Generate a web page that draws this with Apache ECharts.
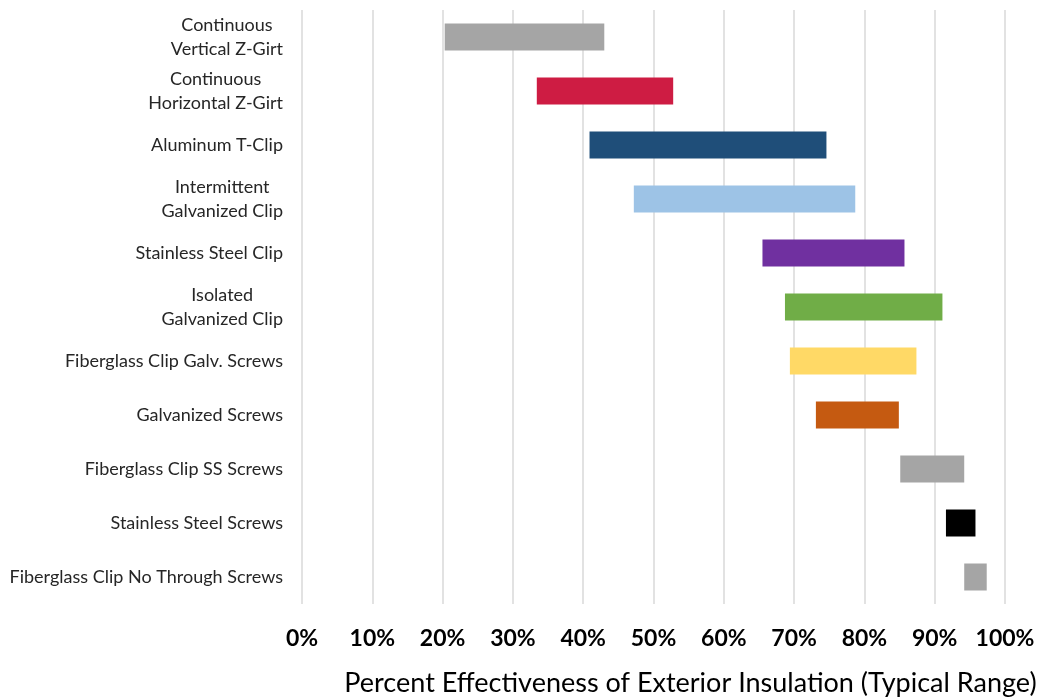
<!DOCTYPE html>
<html>
<head>
<meta charset="utf-8">
<script src="https://cdn.jsdelivr.net/npm/echarts@6/dist/echarts.min.js"></script>
<style>
html,body{margin:0;padding:0;background:#fff;}
#chart{width:1044px;height:698px;}
</style>
</head>
<body>
<div id="chart"></div>
<script>
const categories = [
  "Continuous\nVertical Z-Girt",
  "Continuous\nHorizontal Z-Girt",
  "Aluminum T-Clip",
  "Intermittent\nGalvanized Clip",
  "Stainless Steel Clip",
  "Isolated\nGalvanized Clip",
  "Fiberglass Clip Galv. Screws",
  "Galvanized Screws",
  "Fiberglass Clip SS Screws",
  "Stainless Steel Screws",
  "Fiberglass Clip No Through Screws"
];
const lowValues  = [20.3, 33.4, 40.9, 47.2, 65.5, 68.7, 69.4, 73.1, 85.1, 91.6, 94.2];
const highValues = [43.0, 52.8, 74.6, 78.7, 85.7, 91.1, 87.4, 84.9, 94.2, 95.8, 97.4];
const barColors = ["#A5A5A5", "#CE1C43", "#1F4E79", "#9DC3E6", "#7030A0", "#70AD47",
                   "#FFD966", "#C55A11", "#A5A5A5", "#000000", "#A5A5A5"];
const tickValues = [0, 10, 20, 30, 40, 50, 60, 70, 80, 90, 100];

const rangeData = highValues.map((h, i) => ({
  value: +(h - lowValues[i]).toFixed(2),
  itemStyle: { color: barColors[i] }
}));

const chart = echarts.init(document.getElementById('chart'), null, { renderer: 'canvas' });
chart.setOption({
  animation: false,
  backgroundColor: '#ffffff',
  grid: { left: 302, right: 39, top: 10, bottom: 94, containLabel: false, outerBoundsMode: 'none' },
  xAxis: {
    type: 'value',
    min: tickValues[0],
    max: tickValues[tickValues.length - 1],
    interval: 10,
    axisLine: { show: false },
    axisTick: { show: false },
    splitLine: { show: true, lineStyle: { color: '#D9D9D9', width: 1.5 } },
    axisLabel: {
      formatter: v => v + '%',
      color: '#000000',
      fontWeight: 'bold',
      fontSize: 23,
      fontFamily: 'Lato',
      margin: 23
    },
    name: 'Percent Effectiveness of Exterior Insulation (Typical Range)',
    nameLocation: 'middle',
    nameGap: 66,
    nameTextStyle: {
      color: '#000000',
      fontSize: 27,
      fontFamily: 'Lato',
      padding: [0, 0, 0, 74]
    }
  },
  yAxis: {
    type: 'category',
    data: categories,
    inverse: true,
    axisLine: { show: false },
    axisTick: { show: false },
    splitLine: { show: false },
    axisLabel: {
      color: '#262626',
      fontSize: 18,
      fontFamily: 'Lato',
      margin: 19,
      lineHeight: 24,
      formatter: v => v.split('\n').map(s => '{c|' + s + '}').join('\n'),
      rich: {
        c: { align: 'center', fontSize: 18, fontFamily: 'Lato', color: '#262626', lineHeight: 24 }
      }
    }
  },
  series: [
    {
      type: 'bar',
      stack: 'r',
      data: lowValues,
      itemStyle: { color: 'transparent' },
      barWidth: '50%',
      silent: true
    },
    {
      type: 'bar',
      stack: 'r',
      data: rangeData,
      barWidth: '50%'
    }
  ]
});
</script>
</body>
</html>
